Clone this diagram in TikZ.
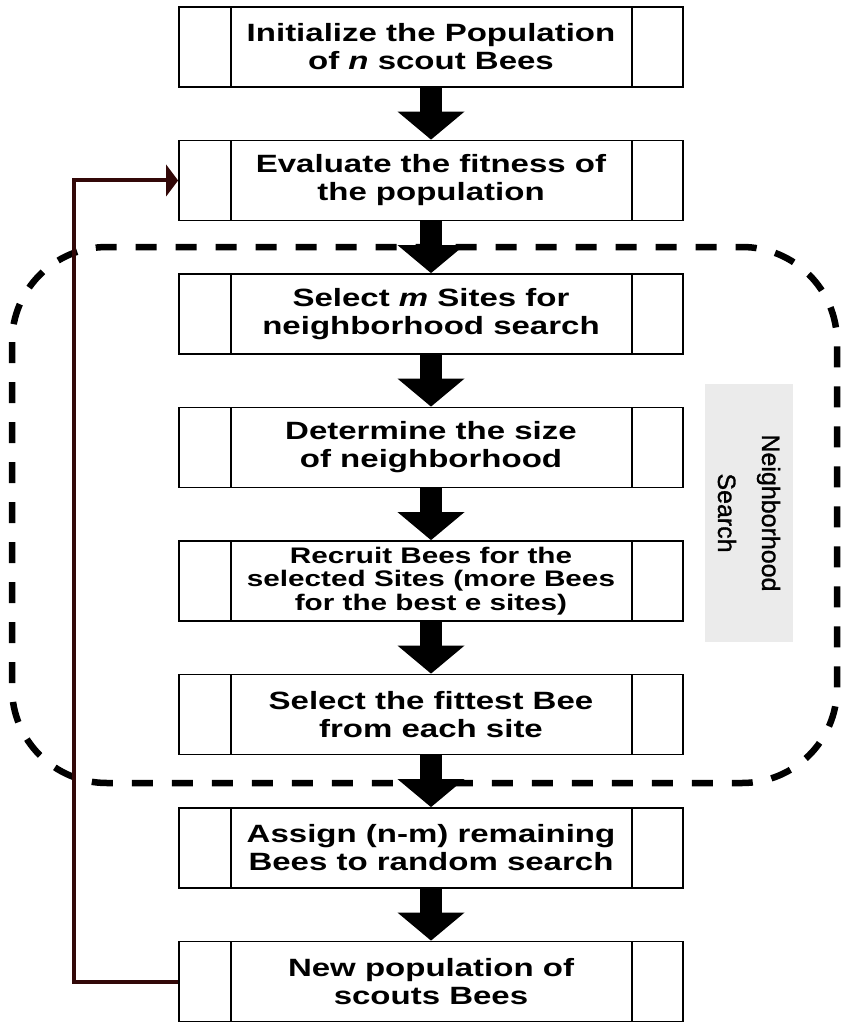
\documentclass[tikz,border=0pt]{standalone}
\usepackage{fontspec}
\usetikzlibrary{arrows.meta}
\newfontfamily\boxfont{Liberation Sans}[FakeStretch=1.32]
\newfontfamily\labelfont{Liberation Sans}[FakeBold=1.2]
\definecolor{looprd}{RGB}{50,8,8}
\definecolor{labelgray}{RGB}{235,235,235}

\begin{document}
\begin{tikzpicture}[x=1pt,y=1pt,
        procbox/.style={draw, line width=1.8pt, minimum width=504pt, minimum height=80pt,
            inner sep=0pt, align=center, font=\boxfont\bfseries\fontsize{25}{28}\selectfont,
            path picture={
                \draw[line width=1.8pt] ([xshift=52pt]path picture bounding box.north west) -- ([xshift=52pt]path picture bounding box.south west);
                \draw[line width=1.8pt] ([xshift=-51pt]path picture bounding box.north east) -- ([xshift=-51pt]path picture bounding box.south east);
            }},
        flowarrow/.style={draw=black, line width=22pt, -{Triangle[width=67pt,length=28pt,line width=0pt 0]}},
        loopline/.style={draw=looprd, line width=4pt, -{Triangle[width=32pt,length=12pt,line width=0pt 0]}},
        searchframe/.style={line width=6.5pt, dash pattern=on 21pt off 19pt, rounded corners=95pt},
        sidelabel/.style={fill=labelgray, minimum width=258pt, minimum height=88pt, inner sep=0pt,
            rotate=-90, align=center, font=\labelfont\fontsize{25}{44}\selectfont}]
        \useasboundingbox (0,0) rectangle (842,-1024);
        % neighbourhood search region
        \draw[searchframe] (12,-247) rectangle (837,-783);
        \node[sidelabel] (nslabel) at (749,-513) {Neighborhood\\Search};

        \node[procbox] (init) at (431,-47) {Initialize the Population\\of \textit{n} scout Bees};
        \node[procbox] (eval) at (431,-180.5) {Evaluate the fitness of\\the population};
        \node[procbox] (selm) at (431,-314) {Select \textit{m} Sites for\\neighborhood search};
        \node[procbox] (size) at (431,-447.5) {Determine the size\\of neighborhood};
        \node[procbox, font=\boxfont\bfseries\fontsize{22.5}{23.5}\selectfont] (recruit) at (431,-581) {Recruit Bees for the\\selected Sites (more Bees\\for the best e sites)};
        \node[procbox] (fittest) at (431,-714.5) {Select the fittest Bee\\from each site};
        \node[procbox] (assign) at (431,-848) {Assign (n-m) remaining\\Bees to random search};
        \node[procbox] (newpop) at (431,-981.5) {New population of\\scouts Bees};

        \draw[flowarrow] (init) -- (eval);
        \draw[flowarrow] (eval) -- (selm);
        \draw[flowarrow] (selm) -- (size);
        \draw[flowarrow] (size) -- (recruit);
        \draw[flowarrow] (recruit) -- (fittest);
        \draw[flowarrow] (fittest) -- (assign);
        \draw[flowarrow] (assign) -- (newpop);

        % back to evaluation
        \draw[loopline] (newpop.west) -- ++(-104,0) |- (eval.west);
    \end{tikzpicture}
\end{document}
